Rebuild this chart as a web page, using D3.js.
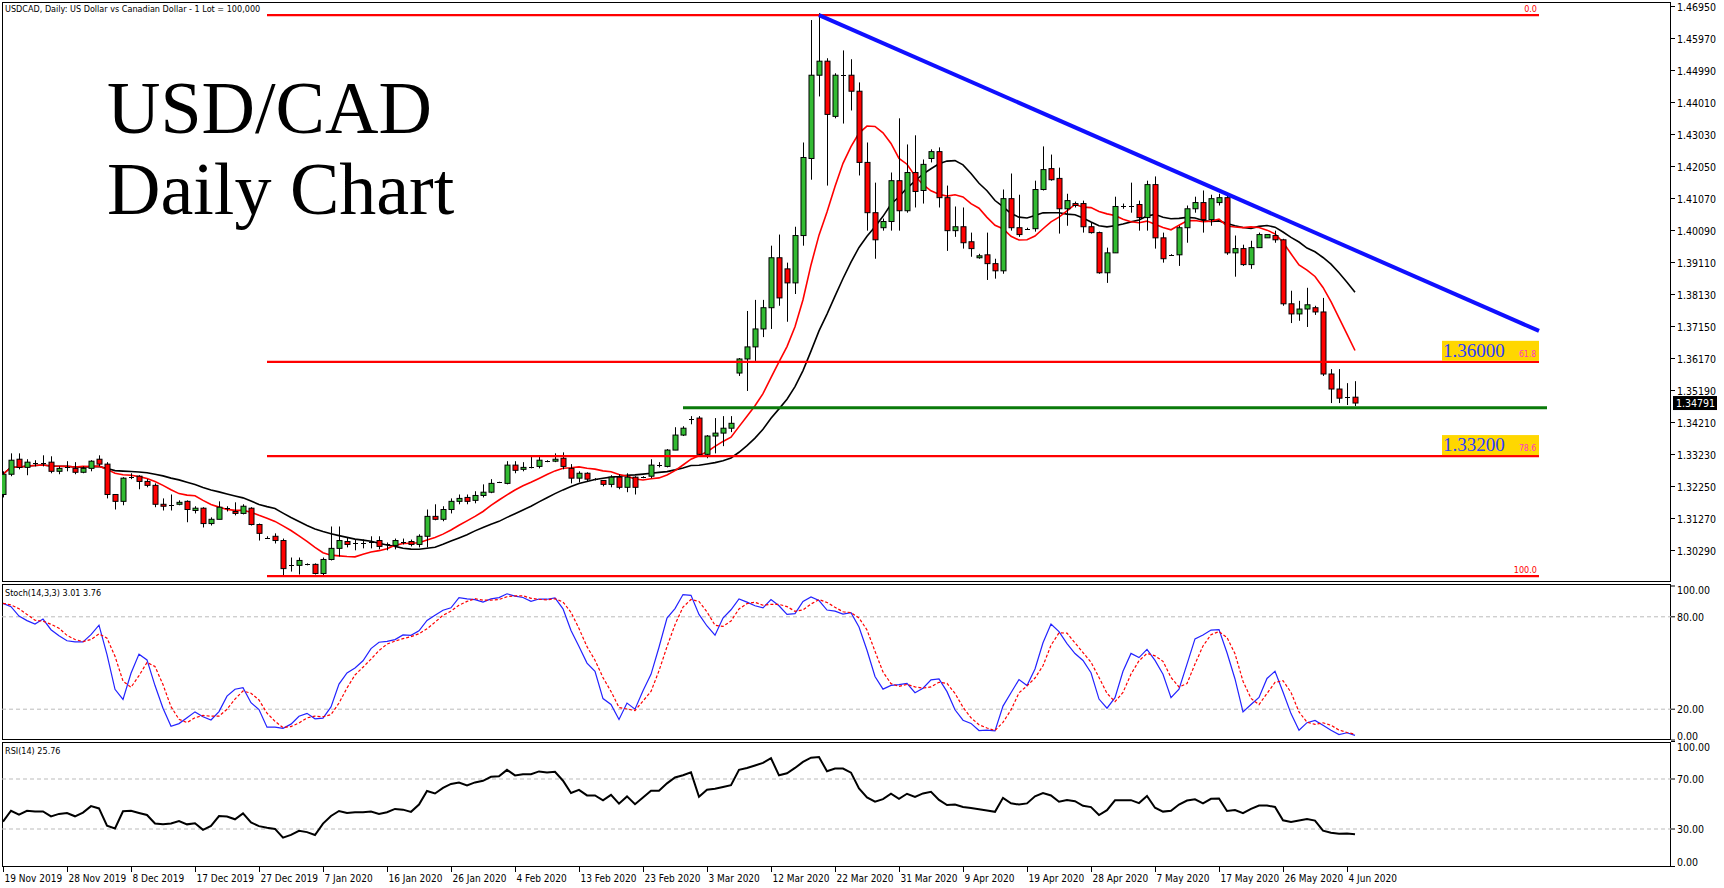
<!DOCTYPE html>
<html><head><meta charset="utf-8">
<script src="https://cdn.jsdelivr.net/npm/d3@7"></script>
<style>body{margin:0;background:#fff}svg{display:block}</style>
</head><body><svg id="c" width="1724" height="888" font-family="'DejaVu Sans Condensed','Liberation Sans Narrow',sans-serif"></svg>
<script>
// OHLC rows [open, high, low, close], daily bars from 19 Nov 2019
const ohlc = [
[1.3199,1.3270,1.3190,1.3261],[1.3261,1.3325,1.3255,1.3304],[1.3307,1.3325,1.3276,1.3282],[1.3282,1.3307,1.3258,1.3298],
[1.3295,1.3304,1.3285,1.3295],[1.3295,1.3319,1.3285,1.3295],[1.3298,1.3316,1.3264,1.3270],[1.3270,1.3285,1.3261,1.3279],
[1.3282,1.3301,1.3270,1.3282],[1.3279,1.3298,1.3261,1.3267],[1.3267,1.3285,1.3264,1.3279],[1.3279,1.3304,1.3270,1.3301],
[1.3307,1.3319,1.3285,1.3292],[1.3292,1.3298,1.3187,1.3199],[1.3199,1.3199,1.3153,1.3178],[1.3178,1.3252,1.3166,1.3249],
[1.3249,1.3264,1.3246,1.3252],[1.3255,1.3258,1.3215,1.3239],[1.3239,1.3246,1.3221,1.3227],[1.3227,1.3233,1.3160,1.3169],
[1.3169,1.3187,1.3150,1.3163],[1.3166,1.3199,1.3150,1.3166],[1.3169,1.3181,1.3166,1.3175],[1.3178,1.3181,1.3114,1.3153],
[1.3150,1.3163,1.3141,1.3157],[1.3157,1.3160,1.3098,1.3110],[1.3110,1.3129,1.3104,1.3123],[1.3123,1.3178,1.3123,1.3160],
[1.3157,1.3163,1.3147,1.3157],[1.3147,1.3175,1.3135,1.3141],[1.3141,1.3169,1.3138,1.3163],[1.3157,1.3160,1.3104,1.3107],
[1.3107,1.3110,1.3058,1.3080],[1.3067,1.3071,1.3064,1.3067],[1.3071,1.3080,1.3049,1.3058],[1.3058,1.3064,1.2948,1.2972],
[1.2982,1.3006,1.2963,1.2982],[1.2982,1.3006,1.2954,1.2997],[1.2985,1.2988,1.2982,1.2985],[1.2985,1.2988,1.2954,1.2957],
[1.2957,1.3006,1.2951,1.3000],[1.3000,1.3101,1.2997,1.3034],[1.3034,1.3101,1.3009,1.3058],[1.3055,1.3067,1.3037,1.3046],
[1.3049,1.3061,1.3028,1.3049],[1.3049,1.3061,1.3034,1.3049],[1.3052,1.3071,1.3034,1.3052],[1.3058,1.3071,1.3031,1.3040],
[1.3046,1.3052,1.3028,1.3046],[1.3043,1.3064,1.3031,1.3058],[1.3055,1.3064,1.3046,1.3055],[1.3055,1.3061,1.3040,1.3046],
[1.3046,1.3077,1.3037,1.3071],[1.3071,1.3153,1.3037,1.3132],[1.3132,1.3169,1.3120,1.3123],[1.3123,1.3163,1.3117,1.3153],
[1.3153,1.3187,1.3141,1.3178],[1.3178,1.3199,1.3169,1.3187],[1.3190,1.3199,1.3169,1.3178],[1.3181,1.3209,1.3172,1.3196],
[1.3196,1.3230,1.3190,1.3206],[1.3206,1.3246,1.3203,1.3233],[1.3236,1.3238,1.3234,1.3236],[1.3233,1.3301,1.3230,1.3289],
[1.3289,1.3301,1.3264,1.3273],[1.3276,1.3298,1.3270,1.3282],[1.3282,1.3316,1.3279,1.3282],[1.3285,1.3316,1.3279,1.3304],
[1.3301,1.3304,1.3298,1.3301],[1.3301,1.3325,1.3298,1.3307],[1.3310,1.3328,1.3276,1.3285],[1.3279,1.3292,1.3233,1.3249],
[1.3249,1.3270,1.3236,1.3264],[1.3264,1.3267,1.3239,1.3246],[1.3246,1.3249,1.3242,1.3246],[1.3242,1.3242,1.3224,1.3230],
[1.3230,1.3258,1.3221,1.3252],[1.3252,1.3261,1.3215,1.3221],[1.3221,1.3264,1.3206,1.3252],[1.3252,1.3255,1.3199,1.3221],
[1.3252,1.3255,1.3249,1.3252],[1.3255,1.3307,1.3249,1.3289],[1.3289,1.3298,1.3282,1.3289],[1.3285,1.3338,1.3282,1.3335],
[1.3335,1.3405,1.3335,1.3381],[1.3381,1.3408,1.3378,1.3402],[1.3430,1.3439,1.3414,1.3430],[1.3433,1.3439,1.3316,1.3322],
[1.3322,1.3381,1.3310,1.3378],[1.3378,1.3433,1.3325,1.3387],[1.3387,1.3439,1.3347,1.3402],[1.3402,1.3439,1.3390,1.3417],
[1.3571,1.3617,1.3562,1.3614],[1.3614,1.3761,1.3516,1.3651],[1.3651,1.3795,1.3608,1.3706],[1.3706,1.3795,1.3681,1.3771],
[1.3771,1.3961,1.3706,1.3924],[1.3924,1.3995,1.3777,1.3801],[1.3890,1.3909,1.3728,1.3847],[1.3847,1.4019,1.3813,1.3992],
[1.3992,1.4277,1.3961,1.4231],[1.4228,1.4652,1.4163,1.4483],[1.4483,1.4673,1.4418,1.4526],[1.4526,1.4535,1.4145,1.4363],
[1.4357,1.4489,1.4351,1.4483],[1.4483,1.4559,1.4335,1.4483],[1.4483,1.4532,1.4375,1.4434],[1.4434,1.4461,1.4176,1.4216],
[1.4216,1.4277,1.4007,1.4062],[1.4062,1.4154,1.3921,1.3979],[1.4016,1.4044,1.4007,1.4035],[1.4035,1.4185,1.4007,1.4160],
[1.4160,1.4351,1.4007,1.4068],[1.4068,1.4271,1.4062,1.4185],[1.4185,1.4299,1.4078,1.4127],[1.4130,1.4225,1.4090,1.4210],
[1.4228,1.4256,1.4216,1.4249],[1.4249,1.4262,1.4078,1.4108],[1.4108,1.4145,1.3945,1.4007],[1.4007,1.4081,1.3988,1.4019],
[1.4019,1.4078,1.3952,1.3970],[1.3973,1.4001,1.3927,1.3952],[1.3924,1.3936,1.3921,1.3930],[1.3933,1.4001,1.3856,1.3906],
[1.3906,1.3921,1.3860,1.3884],[1.3884,1.4133,1.3875,1.4105],[1.4105,1.4182,1.4007,1.4016],[1.4016,1.4117,1.3988,1.3995],
[1.4013,1.4016,1.4010,1.4013],[1.4013,1.4160,1.4004,1.4133],[1.4133,1.4265,1.4130,1.4194],[1.4197,1.4240,1.4160,1.4163],
[1.4167,1.4200,1.3998,1.4074],[1.4074,1.4120,1.4022,1.4099],[1.4090,1.4096,1.4078,1.4084],[1.4090,1.4099,1.4001,1.4019],
[1.4019,1.4031,1.3998,1.4001],[1.4001,1.4004,1.3875,1.3878],[1.3878,1.3955,1.3847,1.3939],[1.3939,1.4111,1.3939,1.4081],
[1.4081,1.4090,1.4074,1.4081],[1.4081,1.4154,1.4062,1.4084],[1.4087,1.4099,1.4007,1.4047],[1.4047,1.4160,1.4007,1.4148],
[1.4148,1.4173,1.3952,1.3985],[1.3985,1.4001,1.3909,1.3921],[1.3933,1.3935,1.3931,1.3933],[1.3933,1.4022,1.3899,1.4016],
[1.4016,1.4084,1.3970,1.4074],[1.4074,1.4111,1.4062,1.4093],[1.4093,1.4130,1.4001,1.4041],[1.4041,1.4117,1.4022,1.4105],
[1.4093,1.4120,1.4084,1.4108],[1.4108,1.4114,1.3933,1.3939],[1.3939,1.3992,1.3866,1.3952],[1.3952,1.3964,1.3899,1.3903],
[1.3903,1.3976,1.3890,1.3955],[1.3955,1.4001,1.3955,1.3995],[1.3985,1.3995,1.3985,1.3995],[1.3992,1.4007,1.3970,1.3979],
[1.3979,1.3982,1.3777,1.3783],[1.3783,1.3823,1.3724,1.3752],[1.3752,1.3792,1.3731,1.3767],[1.3767,1.3832,1.3712,1.3780],
[1.3771,1.3777,1.3749,1.3758],[1.3758,1.3801,1.3562,1.3568],[1.3568,1.3583,1.3479,1.3522],[1.3522,1.3583,1.3479,1.3494],
[1.3494,1.3540,1.3473,1.3497],[1.3497,1.3546,1.3470,1.34791]
];
const dateTicks = ["19 Nov 2019","28 Nov 2019","8 Dec 2019","17 Dec 2019","27 Dec 2019","7 Jan 2020","16 Jan 2020","26 Jan 2020","4 Feb 2020","13 Feb 2020","23 Feb 2020","3 Mar 2020","12 Mar 2020","22 Mar 2020","31 Mar 2020","9 Apr 2020","19 Apr 2020","28 Apr 2020","7 May 2020","17 May 2020","26 May 2020","4 Jun 2020"];
const tickEvery = 8;
const priceTicks = [1.46950,1.45970,1.44990,1.44010,1.43030,1.42050,1.41070,1.40090,1.39110,1.38130,1.37150,1.36170,1.35190,1.34210,1.33230,1.32250,1.31270,1.30290];
const fibHigh = 1.4667, fibLow = 1.2949;
const fibLevels = [0, 61.8, 78.6, 100];
const fibBoxes = [{level:61.8,text:"1.36000"},{level:78.6,text:"1.33200"}];
const fibStart = 33, fibEnd = 192;
const supportLevel = 1.3465, supportStart = 85, supportEnd = 193;
const trendLine = [[102,1.4667],[192,1.3700]];
const lastPrice = "1.34791";
const stochLevels = [80,20], rsiLevels = [70,30];
const stochTicks = [100,80,20,0], rsiTicks = [100,70,30,0];

const svg = d3.select("#c");
const L=2, R=1671;
const x = d3.scaleLinear().domain([0,168]).range([3,1347]);
const y = d3.scaleLinear().domain([1.4695,1.3029]).range([6,550]);
const ys = d3.scaleLinear().domain([0,100]).range([740,586]);
const yr = d3.scaleLinear().domain([0,100]).range([866.5,741.5]);
const fibPrice = l => fibHigh - (fibHigh-fibLow)*l/100;
const serif = "'Liberation Serif','DejaVu Serif',serif";

[[2,582],[584,740],[742,867]].forEach(([t,b])=>svg.append("rect").attr("x",L+0.5).attr("y",t+0.5).attr("width",R-L-1).attr("height",b-t-1).attr("fill","none").attr("stroke","#000"));
svg.append("defs").append("clipPath").attr("id","cp").append("rect").attr("x",L).attr("y",2).attr("width",R-L).attr("height",580);
const mg = svg.append("g").attr("clip-path","url(#cp)");

const closes = ohlc.map(d=>d[3]);
const sma = n => closes.map((c,i)=>d3.mean(closes.slice(Math.max(0,i-n+1),i+1)));
const line = d3.line().x((d,i)=>x(i)).y(d=>y(d));
mg.append("path").attr("d",line(sma(20))).attr("fill","none").attr("stroke","#000").attr("stroke-width",1.6);
mg.append("path").attr("d",line(sma(10))).attr("fill","none").attr("stroke","#f00").attr("stroke-width",1.6);

ohlc.forEach((d,i)=>{
  const [o,h,l,c]=d, xc=Math.round(x(i))+0.5;
  mg.append("line").attr("x1",xc).attr("x2",xc).attr("y1",y(h)).attr("y2",y(l)).attr("stroke","#000");
  const top=y(Math.max(o,c)), bot=y(Math.min(o,c));
  if (bot-top<1.5) mg.append("line").attr("x1",xc-2.5).attr("x2",xc+2.5).attr("y1",Math.round(top)+0.5).attr("y2",Math.round(top)+0.5).attr("stroke","#000");
  else mg.append("rect").attr("x",xc-2.5).attr("y",top).attr("width",5).attr("height",bot-top).attr("fill",c>=o?"#33bb33":"#ff0000").attr("stroke","#000").attr("stroke-width",1);
});

fibLevels.forEach(l=>{
  const yy=y(fibPrice(l));
  mg.append("line").attr("x1",x(fibStart)).attr("x2",x(fibEnd)).attr("y1",yy).attr("y2",yy).attr("stroke","#f00").attr("stroke-width",2.2);
  if (l===0||l===100) mg.append("text").attr("x",x(fibEnd)-2).attr("y",yy-3).attr("text-anchor","end").attr("font-size",9).attr("fill","#f00").text(l.toFixed(1));
});
fibBoxes.forEach(b=>{
  const yy=y(fibPrice(b.level)), x2=x(fibEnd);
  mg.append("rect").attr("x",x2-97).attr("y",yy-21).attr("width",97).attr("height",20).attr("fill","#ffd700");
  mg.append("text").attr("x",x2-96).attr("y",yy-5).attr("font-family",serif).attr("font-size",19).attr("fill","#2a3cff").text(b.text);
  mg.append("text").attr("x",x2-3).attr("y",yy-5).attr("text-anchor","end").attr("font-size",8.5).attr("fill","#ff33cc").text(b.level.toFixed(1));
});
mg.append("line").attr("x1",x(supportStart)).attr("x2",x(supportEnd)).attr("y1",y(supportLevel)).attr("y2",y(supportLevel)).attr("stroke","#0a7a0a").attr("stroke-width",3);
mg.append("line").attr("x1",x(trendLine[0][0])).attr("y1",y(trendLine[0][1])).attr("x2",x(trendLine[1][0])).attr("y2",y(trendLine[1][1])).attr("stroke","#1010ff").attr("stroke-width",4);

priceTicks.forEach(p=>{
  const yy=Math.round(y(p))+0.5;
  svg.append("line").attr("x1",R).attr("x2",R+4).attr("y1",yy).attr("y2",yy).attr("stroke","#000");
  svg.append("text").attr("x",R+6).attr("y",yy+4).attr("font-size",10.5).text(p.toFixed(5));
});
const lp=y(+lastPrice);
svg.append("rect").attr("x",R+2).attr("y",lp-7).attr("width",44).attr("height",14).attr("fill","#000");
svg.append("text").attr("x",R+5).attr("y",lp+4).attr("font-size",10.5).attr("fill","#fff").text(lastPrice);

svg.append("text").attr("x",5).attr("y",12).attr("font-size",9).text("USDCAD, Daily:  US Dollar vs Canadian Dollar - 1 Lot = 100,000");
svg.append("text").attr("x",107).attr("y",133).attr("font-family",serif).attr("font-size",74).text("USD/CAD");
svg.append("text").attr("x",107).attr("y",214).attr("font-family",serif).attr("font-size",74).text("Daily Chart");

const highs=ohlc.map(d=>d[1]), lows=ohlc.map(d=>d[2]);
const raw = closes.map((c,i)=>{const a=Math.max(0,i-13);const hh=d3.max(highs.slice(a,i+1)),ll=d3.min(lows.slice(a,i+1));return hh===ll?50:100*(c-ll)/(hh-ll);});
const smooth=(arr,n)=>arr.map((v,i)=>d3.mean(arr.slice(Math.max(0,i-n+1),i+1)));
const kLine=smooth(raw,3), dLine=smooth(kLine,3);
stochLevels.forEach(l=>svg.append("line").attr("x1",L).attr("x2",R).attr("y1",ys(l)).attr("y2",ys(l)).attr("stroke","#bbb").attr("stroke-dasharray","4,3"));
const sl=d3.line().x((d,i)=>x(i)).y(d=>ys(d));
svg.append("path").attr("d",sl(kLine)).attr("fill","none").attr("stroke","#2222ff").attr("stroke-width",1.2);
svg.append("path").attr("d",sl(dLine)).attr("fill","none").attr("stroke","#ff0000").attr("stroke-width",1.2).attr("stroke-dasharray","3,2");
stochTicks.forEach(t=>{const yy=Math.min(Math.max(ys(t),590),736);
  svg.append("line").attr("x1",R).attr("x2",R+4).attr("y1",ys(t)).attr("y2",ys(t)).attr("stroke","#000");
  svg.append("text").attr("x",R+6).attr("y",yy+4).attr("font-size",10.5).text(t.toFixed(2));});
svg.append("text").attr("x",5).attr("y",596).attr("font-size",9).text("Stoch(14,3,3) "+kLine[kLine.length-1].toFixed(2)+" "+dLine[dLine.length-1].toFixed(2));

// RSI(14), Wilder smoothing seeded with the first 14 changes
const ch = closes.slice(1).map((c,i)=>c-closes[i]);
let ag=d3.mean(ch.slice(0,14),v=>Math.max(v,0)), al=d3.mean(ch.slice(0,14),v=>Math.max(-v,0));
const rsi=[100-100/(1+ag/al)];
ch.forEach(v=>{ag=(ag*13+Math.max(v,0))/14; al=(al*13+Math.max(-v,0))/14; rsi.push(100-100/(1+ag/al));});
rsiLevels.forEach(l=>svg.append("line").attr("x1",L).attr("x2",R).attr("y1",yr(l)).attr("y2",yr(l)).attr("stroke","#bbb").attr("stroke-dasharray","4,3"));
svg.append("path").attr("d",d3.line().x((d,i)=>x(i)).y(d=>yr(d))(rsi)).attr("fill","none").attr("stroke","#000").attr("stroke-width",2);
rsiTicks.forEach(t=>{const yy=Math.min(Math.max(yr(t),747),862);
  svg.append("line").attr("x1",R).attr("x2",R+4).attr("y1",yr(t)).attr("y2",yr(t)).attr("stroke","#000");
  svg.append("text").attr("x",R+6).attr("y",yy+4).attr("font-size",10.5).text(t.toFixed(2));});
svg.append("text").attr("x",5).attr("y",754).attr("font-size",9).text("RSI(14) "+rsi[rsi.length-1].toFixed(2));

dateTicks.forEach((t,k)=>{const xx=Math.round(x(k*tickEvery))+0.5;
  svg.append("line").attr("x1",xx).attr("x2",xx).attr("y1",867).attr("y2",872).attr("stroke","#000");
  svg.append("text").attr("x",xx+1).attr("y",882).attr("font-size",10).text(t);});
</script></body></html>
